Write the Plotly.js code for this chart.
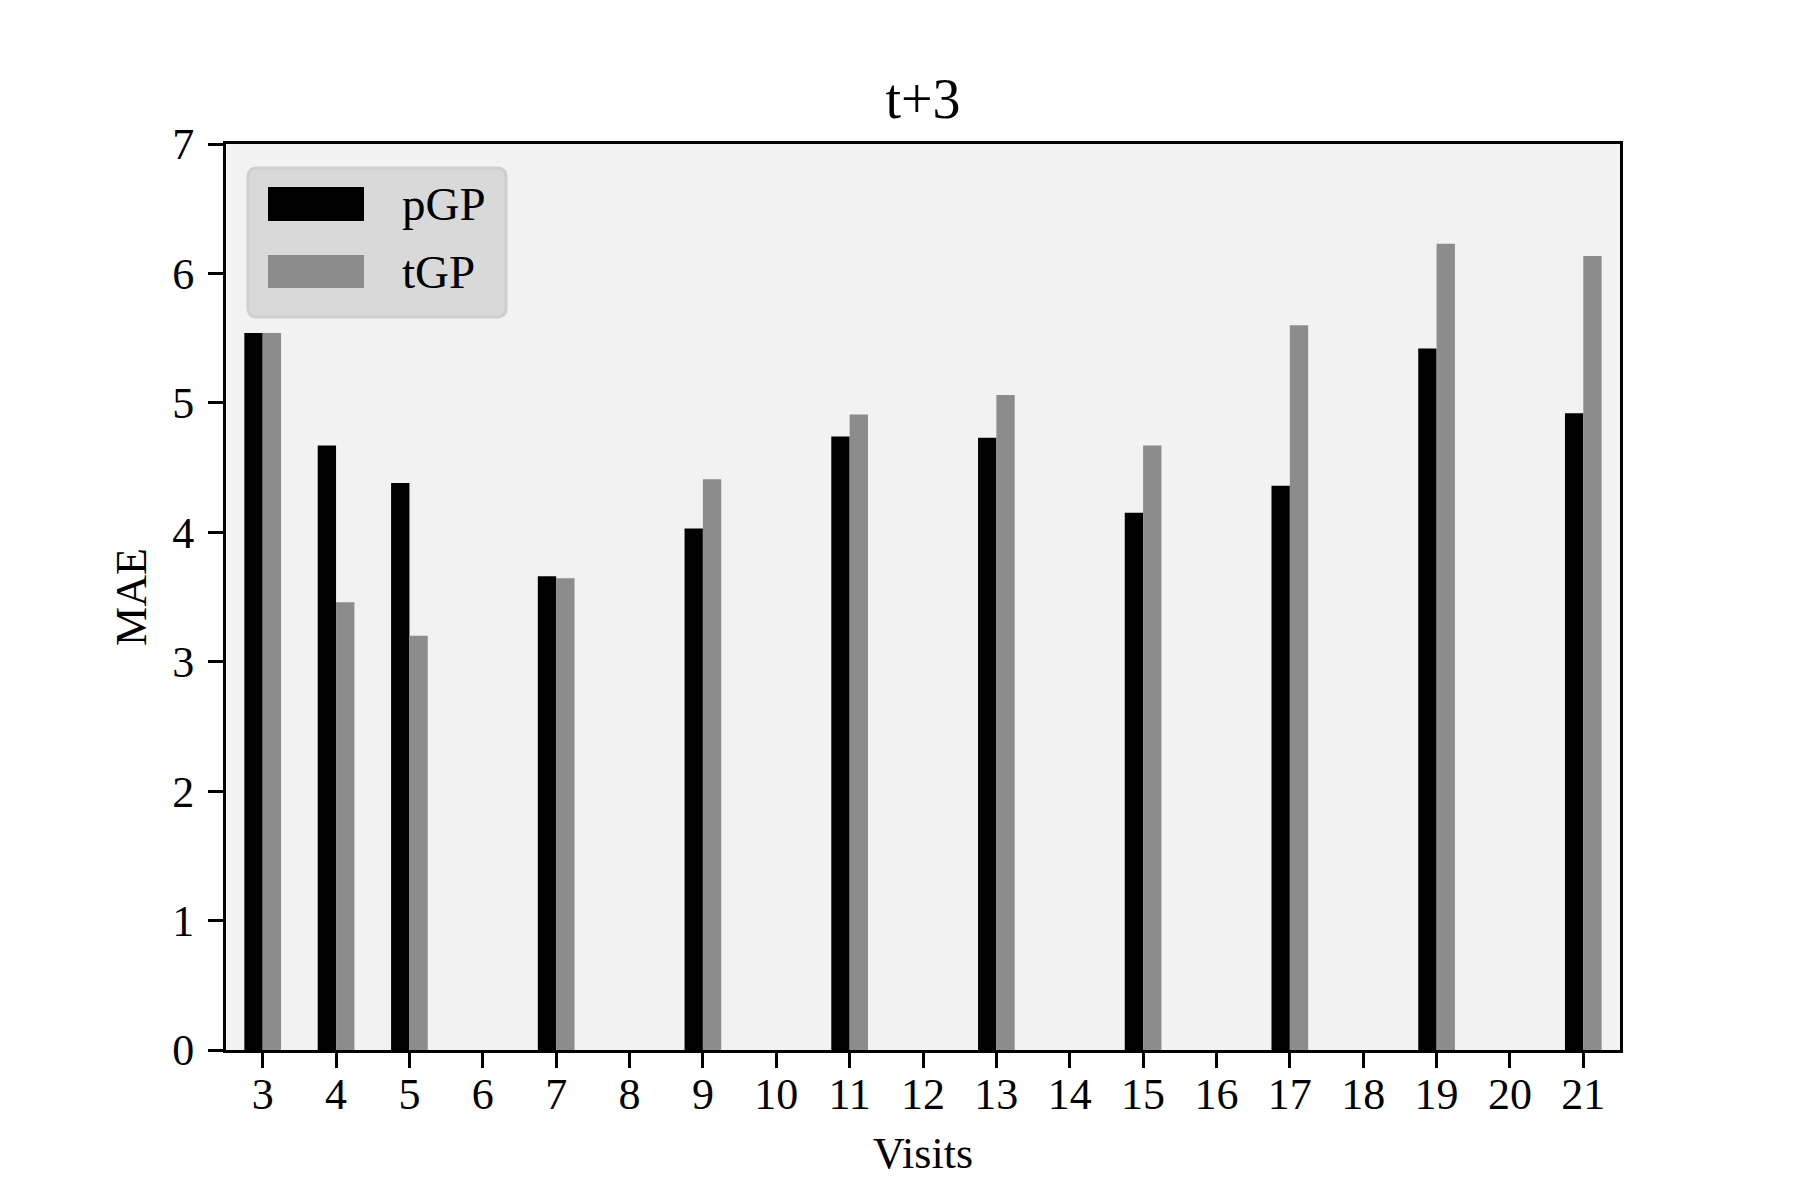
<!DOCTYPE html>
<html>
<head>
<meta charset="utf-8">
<script src="https://cdn.plot.ly/plotly-3.0.1.min.js"></script>
<style>html,body{margin:0;padding:0;background:#fff;}</style>
</head>
<body>
<div id="chart" style="width:1800px;height:1200px;"></div>
<script>
// ---- data ----
const visits = [3, 4, 5, 7, 9, 11, 13, 15, 17, 19, 21];
const pGP = [5.54, 4.67, 4.38, 3.66, 4.03, 4.74, 4.73, 4.15, 4.36, 5.42, 4.92];
const tGP = [5.54, 3.46, 3.20, 3.645, 4.41, 4.91, 5.06, 4.67, 5.60, 6.23, 6.135];
const xTicks = [3,4,5,6,7,8,9,10,11,12,13,14,15,16,17,18,19,20,21];
const seriesNames = ['pGP', 'tGP'];
const seriesColors = ['#000000', '#8c8c8c'];
const titleText = 't+3';
const xLabel = 'Visits';
const yLabel = 'MAE';

// ---- layout geometry (pixels) ----
const W = 1800, H = 1200;
const L = 226, R = 1620, T = 144, B = 1050;
const px = v => (v - L) / (R - L);
const py = v => (B - v) / (B - T);
const FONT = '"Liberation Serif", "Times New Roman", serif';

const traces = [
  {type: 'bar', name: seriesNames[0], x: visits, y: pGP, width: 0.25, offset: -0.25,
   marker: {color: seriesColors[0], line: {width: 0}}, showlegend: false},
  {type: 'bar', name: seriesNames[1], x: visits, y: tGP, width: 0.25, offset: 0,
   marker: {color: seriesColors[1], line: {width: 0}}, showlegend: false}
];

// custom legend (matplotlib-like)
function roundRect(x0, y0, x1, y1, r) {
  const X = v => px(v).toFixed(5), Y = v => py(v).toFixed(5);
  return `M ${X(x0 + r)} ${Y(y0)} L ${X(x1 - r)} ${Y(y0)} Q ${X(x1)} ${Y(y0)} ${X(x1)} ${Y(y0 + r)} ` +
         `L ${X(x1)} ${Y(y1 - r)} Q ${X(x1)} ${Y(y1)} ${X(x1 - r)} ${Y(y1)} ` +
         `L ${X(x0 + r)} ${Y(y1)} Q ${X(x0)} ${Y(y1)} ${X(x0)} ${Y(y1 - r)} ` +
         `L ${X(x0)} ${Y(y0 + r)} Q ${X(x0)} ${Y(y0)} ${X(x0 + r)} ${Y(y0)} Z`;
}
const shapes = [
  {type: 'path', xref: 'paper', yref: 'paper', path: roundRect(248, 168, 506, 317, 9),
   fillcolor: '#d9d9d9', line: {color: '#cfcfcf', width: 3}},
];
const annotations = [];
const handleY = [[187, 221], [255, 288]];
seriesNames.forEach((n, i) => {
  shapes.push({type: 'rect', xref: 'paper', yref: 'paper',
    x0: px(268), x1: px(364), y0: py(handleY[i][1]), y1: py(handleY[i][0]),
    fillcolor: seriesColors[i], line: {width: 0}});
  annotations.push({xref: 'paper', yref: 'paper', x: px(400), y: py((handleY[i][0] + handleY[i][1]) / 2),
    xanchor: 'left', yanchor: 'middle', text: n, showarrow: false,
    font: {family: FONT, size: 47, color: '#000'}});
});

const layout = {
  width: W, height: H,
  margin: {l: L, r: W - R, t: T, b: H - B, pad: 0},
  paper_bgcolor: '#ffffff',
  plot_bgcolor: '#f2f2f2',
  barmode: 'overlay',
  font: {family: FONT, color: '#000'},
  title: {text: titleText, font: {family: FONT, size: 56, color: '#000'},
          x: 0.5, xref: 'paper', xanchor: 'center', y: 1 - 118 / H, yref: 'container', yanchor: 'bottom'},
  xaxis: {
    range: [2.5, 21.5], tickmode: 'array', tickvals: xTicks, ticktext: xTicks.map(String),
    showgrid: false, zeroline: false, showline: true, linecolor: '#000', linewidth: 3, mirror: true,
    ticks: 'outside', ticklen: 15, tickwidth: 3, tickcolor: '#000',
    tickfont: {family: FONT, size: 44, color: '#000'}, ticklabelstandoff: -12,
    title: {text: xLabel, font: {family: FONT, size: 44, color: '#000'}, standoff: 20}
  },
  yaxis: {
    range: [0, 7], tickmode: 'linear', tick0: 0, dtick: 1,
    showgrid: false, zeroline: false, showline: true, linecolor: '#000', linewidth: 3, mirror: true,
    ticks: 'outside', ticklen: 15, tickwidth: 3, tickcolor: '#000',
    tickfont: {family: FONT, size: 44, color: '#000'}, ticklabelstandoff: 5,
    title: {text: yLabel, font: {family: FONT, size: 44, color: '#000'}, standoff: 12}
  },
  shapes: shapes,
  annotations: annotations
};

Plotly.newPlot('chart', traces, layout, {displayModeBar: false, staticPlot: true});
</script>
</body>
</html>
